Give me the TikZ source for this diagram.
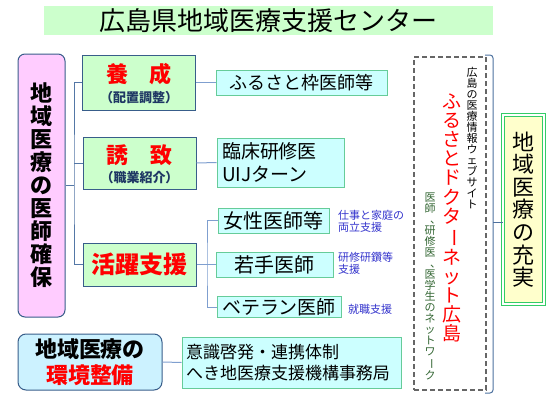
\documentclass[tikz,border=0pt]{standalone}
\usepackage{fontspec}
\usepackage{graphicx}
\setmainfont{Noto Sans CJK JP}
\definecolor{titlegreen}{HTML}{CCFFCC}
\definecolor{boxgreen}{HTML}{CCFFCC}
\definecolor{pinkfill}{HTML}{FFCCFF}
\definecolor{navyline}{HTML}{385D8A}
\definecolor{cyanfill}{HTML}{CCFFFF}
\definecolor{cyanline}{HTML}{66CC99}
\definecolor{envfill}{HTML}{CCF2FF}
\definecolor{yellowfill}{HTML}{FFFFCC}
\definecolor{dgreen}{HTML}{33CC66}
\definecolor{conn}{HTML}{7F9FCF}
\definecolor{labelblue}{HTML}{3333CC}
\definecolor{netgreen}{HTML}{336633}
\definecolor{subnavy}{HTML}{1F3864}
\newcommand{\vbar}{\rotatebox[origin=c]{-90}{ー}}
\newcommand{\vcomma}{\hbox to 1em{\hspace{0.5em}、\hss}}
\newcommand{\fsz}[2]{\fontsize{#1}{#2}\selectfont}
\tikzset{
  greenbox/.style={draw=navyline, line width=1pt, fill=boxgreen, inner sep=0pt, align=center},
  cyanbox/.style={draw=cyanline, line width=1pt, fill=cyanfill, inner sep=0pt},
  bluelabel/.style={text=labelblue, font=\fsz{11}{12}, align=left, anchor=west, inner sep=0pt},
  conline/.style={draw=conn, line width=1pt},
}
\begin{document}
\begin{tikzpicture}[x=1pt,y=-1pt]
\useasboundingbox (0,0) rectangle (550,402);
% title
\node[fill=titlegreen, minimum width=449pt, minimum height=29pt, inner sep=0pt, font=\fsz{26}{28}] (title) at (268.5,20.5) {広島県地域医療支援センター};
% left pink
\node[draw=navyline, line width=1pt, fill=pinkfill, rounded corners=7pt, minimum width=47pt, minimum height=263pt, inner sep=0pt, align=center, font=\bfseries\fsz{22}{23}] (pink) at (41.5,185.5) {地\\域\\医\\療\\の\\医\\師\\確\\保};
% middle boxes
\node[greenbox, minimum width=113pt, minimum height=55pt] (yo) at (139,82.5) {};
\node[text=red, font=\bfseries\fsz{22}{24}] (yot) at (139,74) {養　成};
\node[text=subnavy, font=\bfseries\fsz{13}{15}] (yos) at (139,98) {（配置調整）};
\node[greenbox, minimum width=113pt, minimum height=52pt] (yuchi) at (139.5,163) {};
\node[text=red, font=\bfseries\fsz{22}{24}] (yut) at (139.5,155) {誘　致};
\node[text=subnavy, font=\bfseries\fsz{13}{15}] (yus) at (139.5,178) {（職業紹介）};
\node[greenbox, minimum width=113pt, minimum height=43pt, text=red, font=\bfseries\fsz{24}{26}] (katsu) at (139.5,264.5) {活躍支援};
% connectors left
\coordinate (bx) at (74,185.5);
\draw[conline, draw=navyline!60!conn] (pink.east) -- (bx);
\draw[conline, draw=navyline!60!conn] (yo.west) -| (bx) |- (katsu.west);
\draw[conline, draw=navyline!60!conn] (yuchi.west) -- (yuchi.west -| bx);
% right boxes
\node[cyanbox, minimum width=171pt, minimum height=25pt, font=\fsz{18}{20}] (furu) at (301.5,82.5) {ふるさと枠医師等};
\node[cyanbox, minimum width=127pt, minimum height=49pt, font=\fsz{19}{23}, align=left, text width=117pt] (rin) at (280.5,162.5) {臨床研修医\\UIJターン};
\node[cyanbox, minimum width=111pt, minimum height=25pt, font=\fsz{20}{22}] (jo) at (273.5,220.5) {女性医師等};
\node[cyanbox, minimum width=117pt, minimum height=25pt, font=\fsz{20}{22}] (waka) at (274.5,264.5) {若手医師};
\node[cyanbox, minimum width=124pt, minimum height=21pt, font=\fsz{19}{21}] (vet) at (279,307) {ベテラン医師};
\draw[conline] (yo.east) -- (furu.west);
\draw[conline] (yuchi.east) -- (rin.west);
\coordinate (bx2) at (207,264.5);
\draw[conline] (katsu.east) -- (waka.west);
\draw[conline] (jo.west) -| (bx2) |- (vet.west);
% blue labels
\node[bluelabel] (l1) at (338,221) {仕事と家庭の\\両立支援};
\node[bluelabel] (l2) at (338,263.5) {研修研鑽等\\支援};
\node[bluelabel] (l3) at (348,309) {就職支援};
% bottom
\node[draw=navyline, line width=1pt, fill=envfill, rounded corners=8pt, minimum width=144pt, minimum height=56pt, inner sep=0pt, align=center, font=\bfseries\fsz{22}{26}] (env) at (90,362) {地域医療の\\\textcolor{red}{環境整備}};
\node[cyanbox, minimum width=219pt, minimum height=51pt, align=left, text width=211pt, font=\fsz{17}{21}] (ishiki) at (291.5,362.5) {意識啓発・連携体制\\へき地医療支援機構事務局};
\draw[conline] (env.east) -- (ishiki.west);
% dashed box
\node[draw=black!60, line width=1.6pt, dash pattern=on 5pt off 3pt, minimum width=72pt, minimum height=333pt, inner sep=0pt] (dash) at (450,223.5) {};
\node[align=center, inner sep=0pt, font=\fsz{11}{11}] (web) at (472,138.5) {広\\島\\の\\医\\療\\情\\報\\ウ\\ェ\\ブ\\サ\\イ\\ト};
\node[align=center, inner sep=0pt, text=red, font=\fsz{19}{19.2}] (fdn) at (452,218) {ふ\\る\\さ\\と\\ド\\ク\\タ\\\vbar\\ネ\\ッ\\ト\\広\\島};
\node[align=center, inner sep=0pt, text=netgreen, font=\fsz{11}{11}] (net) at (430,286.5) {医\\師\\\vcomma\\研\\修\\医\\\vcomma\\医\\学\\生\\の\\ネ\\ッ\\ト\\ワ\\\vbar\\ク};
% right yellow box
\node[draw=dgreen, double=white, double distance=1.5pt, line width=1pt, fill=yellowfill, minimum width=41pt, minimum height=189pt, inner sep=0pt, align=center, font=\fsz{22}{22.6}] (yel) at (523.5,209.5) {地\\域\\医\\療\\の\\充\\実};
% brace
\coordinate (bt) at (485,55);
\coordinate (bb) at (485,393);
\coordinate (bm) at (493,222);
\draw[draw=navyline!70!conn, line width=1pt, rounded corners=3pt] (bt) -- (493,55) -- (493,393) -- (bb);
\draw[draw=navyline!70!conn, line width=1pt] (bm) -- (bm -| yel.west);
\end{tikzpicture}
\end{document}
